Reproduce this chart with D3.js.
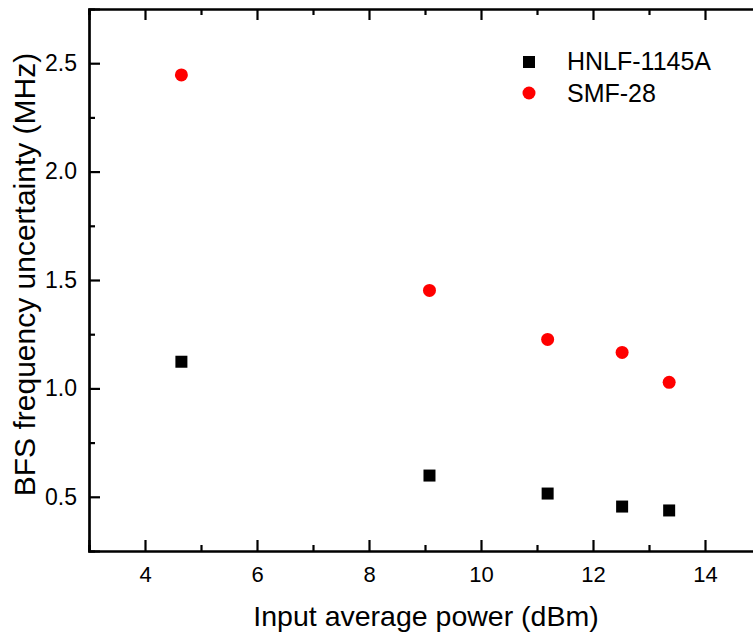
<!DOCTYPE html>
<html>
<head>
<meta charset="utf-8">
<script src="https://cdn.jsdelivr.net/npm/d3@7"></script>
<style>
  body { margin: 0; background: #fff; }
  text { font-family: "Liberation Sans", Arial, sans-serif; fill: #000; }
</style>
</head>
<body>
<svg width="753" height="633"></svg>
<script>
const svg = d3.select("svg");

// data
const powers = [4.65, 9.08, 11.19, 12.52, 13.36];          // dBm
const hnlf = [1.123, 0.598, 0.515, 0.455, 0.437];          // MHz
const smf = [2.446, 1.452, 1.226, 1.166, 1.028];           // MHz
const seriesNames = ["HNLF-1145A", "SMF-28"];
const xTicks = [4, 6, 8, 10, 12, 14];
const yTicks = [0.5, 1.0, 1.5, 2.0, 2.5];

// plot area (right side is cut off by the frame)
const plotLeft = 89, plotTop = 9, plotBottom = 551;
const x = d3.scaleLinear().domain([3, 15]).range([plotLeft, plotLeft + 12 * 56]);
const y = d3.scaleLinear().domain([0.25, 2.75]).range([plotBottom, plotTop]);

const g = svg.append("g");

// bottom axis, ticks inward
const xAxis = d3.axisBottom(x).tickValues(xTicks).tickSize(-11).tickPadding(15)
  .tickFormat(d3.format("d"));
const gx = g.append("g").attr("transform", `translate(0,${plotBottom})`).call(xAxis);
// minor ticks
g.append("g").attr("transform", `translate(0,${plotBottom})`)
  .call(d3.axisBottom(x).tickValues(d3.range(3, 15, 2)).tickSize(-6).tickFormat(""));

// top axis, ticks inward, no labels
g.append("g").attr("transform", `translate(0,${plotTop})`)
  .call(d3.axisTop(x).tickValues(xTicks).tickSize(-11).tickFormat(""));
g.append("g").attr("transform", `translate(0,${plotTop})`)
  .call(d3.axisTop(x).tickValues(d3.range(3, 15, 2)).tickSize(-6).tickFormat(""));

// left axis, ticks inward
const yAxis = d3.axisLeft(y).tickValues(yTicks).tickSize(-11).tickPadding(12)
  .tickFormat(d3.format(".1f"));
const gy = g.append("g").attr("transform", `translate(${plotLeft},0)`).call(yAxis);
g.append("g").attr("transform", `translate(${plotLeft},0)`)
  .call(d3.axisLeft(y).tickValues(d3.range(0.75, 2.75, 0.5)).tickSize(-6).tickFormat(""));

g.selectAll(".domain").attr("stroke", "#000").attr("stroke-width", 2.2);
g.selectAll(".tick line").attr("stroke", "#000").attr("stroke-width", 2.2);
g.selectAll(".tick text").style("font-size", "22px").attr("fill", "#000");
gy.selectAll(".tick text").style("font-size", "23px");
gx.selectAll(".tick text").attr("dy", "0.71em");

// points
g.selectAll(".sq").data(powers).enter().append("rect")
  .attr("x", (d, i) => x(d) - 6)
  .attr("y", (d, i) => y(hnlf[i]) - 6)
  .attr("width", 12).attr("height", 12)
  .attr("fill", "#000");

g.selectAll(".dot").data(powers).enter().append("circle")
  .attr("cx", d => x(d))
  .attr("cy", (d, i) => y(smf[i]))
  .attr("r", 6.5)
  .attr("fill", "#ff0000");

// legend
const lg = svg.append("g");
lg.append("rect").attr("x", 523).attr("y", 56).attr("width", 12).attr("height", 12).attr("fill", "#000");
lg.append("circle").attr("cx", 529).attr("cy", 93).attr("r", 6.5).attr("fill", "#ff0000");
lg.selectAll(".lt").data(seriesNames).enter().append("text")
  .attr("x", 567)
  .attr("y", (d, i) => 70 + i * 31.5)
  .style("font-size", "25px")
  .text(d => d);

// axis titles
svg.append("text")
  .attr("x", 426).attr("y", 626)
  .attr("text-anchor", "middle")
  .style("font-size", "28.5px")
  .text("Input average power (dBm)");

svg.append("text")
  .attr("transform", "translate(35,274.5) rotate(-90)")
  .attr("text-anchor", "middle")
  .style("font-size", "30px")
  .text("BFS frequency uncertainty (MHz)");
</script>
</body>
</html>
